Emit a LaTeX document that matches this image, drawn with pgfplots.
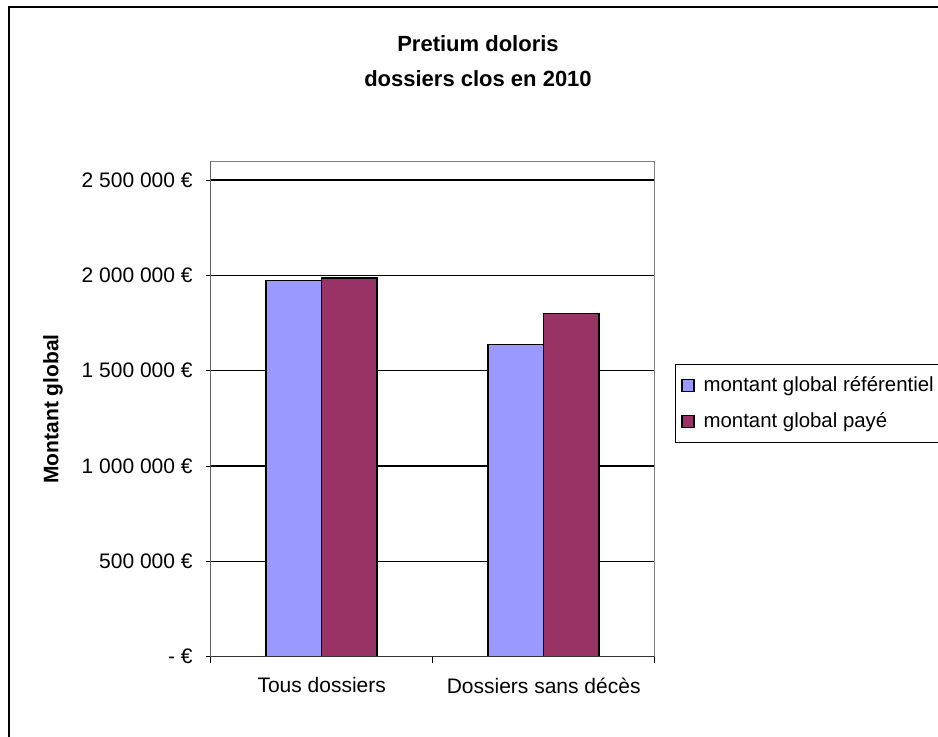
\documentclass[border=0pt]{standalone}
\usepackage{pgfplots}
\pgfplotsset{compat=1.18}
\usepackage{fontspec}
\setmainfont{Liberation Sans}
\definecolor{barblue}{HTML}{9999FF}
\definecolor{barred}{HTML}{993366}
\begin{document}
\begin{tikzpicture}
\path[use as bounding box, clip] (0,0) rectangle (469pt,368pt);
\draw[line width=1pt] (4.25pt,-5pt) -- (4.25pt,364.65pt) -- (475pt,364.65pt);
\node[font=\bfseries\fontsize{11}{13}\selectfont, anchor=base] at (239pt,342.5pt) {Pretium doloris};
\node[font=\bfseries\fontsize{11}{13}\selectfont, anchor=base] at (239pt,325pt) {dossiers clos en 2010};
\begin{axis}[
  at={(105.35pt,39.65pt)}, anchor=south west,
  scale only axis, width=222pt, height=247.85pt,
  xmin=-0.5, xmax=1.5, ymin=0, ymax=2600000,
  scaled y ticks=false,
  axis line style={draw=gray},
  xtick pos=bottom, ytick pos=left,
  tick align=outside,
  xtick={0,1},
  xticklabels={Tous dossiers, Dossiers sans décès},
  major x tick style={draw=none},
  minor xtick={-0.5,0.5,1.5},
  minor tick length=3pt,
  major tick length=2.5pt,
  tick style={black, line width=0.5pt},
  ytick={0,500000,1000000,1500000,2000000,2500000},
  yticklabels={- €, 500 000 €, 1 000 000 €, 1 500 000 €, 2 000 000 €, 2 500 000 €},
  yticklabel style={xshift=-3pt},
  xticklabel style={yshift=-4.5pt},
  ticklabel style={font=\fontsize{10.5}{12}\selectfont},
  ymajorgrids,
  grid style={black, line width=0.65pt},
  ylabel={Montant global},
  every axis y label/.style={at={([xshift=-78.8pt]axis description cs:0,0.5)}, rotate=90, anchor=center, font=\bfseries\fontsize{10.5}{12}\selectfont},
  legend style={at={(1.0457,0.5905)}, anchor=north west, draw=black,
    font=\fontsize{10.2}{12}\selectfont, row sep=5pt, column sep=2.5pt, inner xsep=3pt, inner ysep=4pt,
    cells={anchor=west}},
  legend image code/.code={\draw[#1, draw=black, line width=0.6pt] (0pt,-3pt) rectangle (6pt,3pt);},
]
\addplot[ybar, fill=barblue, draw=black, line width=0.7pt, bar width=0.25, bar shift=-0.125]
  coordinates {(0,1974500) (1,1636500)};
\addlegendentry{montant global référentiel}
\addplot[ybar, fill=barred, draw=black, line width=0.7pt, bar width=0.25, bar shift=0.125]
  coordinates {(0,1986500) (1,1801000)};
\addlegendentry{montant global payé}
\draw[black!80, line width=0.5pt] (rel axis cs:0,1) -- (rel axis cs:0,0) -- (rel axis cs:1,0);
\end{axis}
\end{tikzpicture}
\end{document}
